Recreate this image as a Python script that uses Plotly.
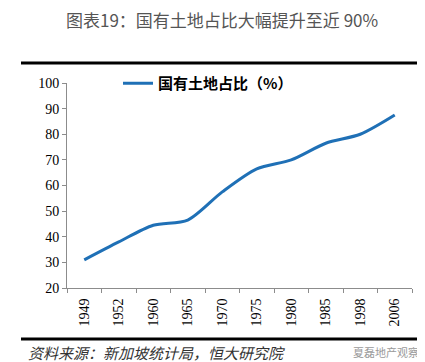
import plotly.graph_objects as go

years = ["1949", "1952", "1960", "1965", "1970", "1975", "1980", "1985", "1998", "2006"]
share = [31, 38, 44.5, 46.5, 57.5, 66.5, 70, 76.5, 80, 87.5]
y_ticks = [20, 30, 40, 50, 60, 70, 80, 90, 100]

W, H = 425, 362
L, R, T, B = 59, 21, 75, 82
pw, ph = W - L - R, H - T - B

def px(x):
    return (x - L) / pw

def py(y):
    return (H - B - y) / ph

fig = go.Figure()
fig.add_trace(go.Scatter(
    x=years, y=share, mode="lines", name="国有土地占比（%）",
    line=dict(color="#1f70b6", width=3, shape="spline", smoothing=0.8),
))

serif = "Liberation Serif, Times New Roman, serif"
cjk = "Noto Sans CJK SC, sans-serif"

fig.update_layout(
    width=W, height=H,
    margin=dict(l=L, r=R, t=T, b=B),
    paper_bgcolor="white", plot_bgcolor="white",
    showlegend=True,
    legend=dict(
        x=px(110), y=py(59), xanchor="left", yanchor="top",
        bgcolor="rgba(0,0,0,0)",
        font=dict(family=cjk, size=15, color="black", weight="bold"),
        itemwidth=30,
    ),
    xaxis=dict(
        type="category", tickson="boundaries", range=[-0.5, len(years) - 0.5],
        showline=True, linecolor="#8c8c8c", linewidth=1,
        ticks="outside", ticklen=4, tickcolor="#8c8c8c",
        tickangle=-90, showgrid=False, zeroline=False,
        ticklabelstandoff=4,
        tickfont=dict(family=serif, size=14, color="black"),
        fixedrange=True,
    ),
    yaxis=dict(
        range=[20, 100], tickvals=y_ticks,
        showline=True, linecolor="#8c8c8c", linewidth=1,
        ticks="outside", ticklen=4, tickcolor="#8c8c8c",
        showgrid=False, zeroline=False,
        tickfont=dict(family=serif, size=14, color="black"),
        fixedrange=True,
    ),
    shapes=[
        dict(type="line", xref="paper", yref="paper",
             x0=px(13), x1=px(415), y0=py(55), y1=py(55),
             line=dict(color="black", width=3)),
        dict(type="line", xref="paper", yref="paper",
             x0=px(13), x1=px(415), y0=py(331), y1=py(331),
             line=dict(color="black", width=3)),
    ],
    annotations=[
        dict(text="图表19：国有土地占比大幅提升至近 90%", xref="paper", yref="paper",
             x=px(214), y=py(12), xanchor="center", yanchor="middle", showarrow=False,
             font=dict(family=cjk, size=17, color="#555555")),
        dict(text="<i>资料来源：新加坡统计局，恒大研究院</i>", xref="paper", yref="paper",
             x=px(18), y=py(344), xanchor="left", yanchor="middle", showarrow=False,
             font=dict(family=cjk, size=15, color="#333333")),
        dict(text="夏磊地产观察", xref="paper", yref="paper",
             x=px(413), y=py(344), xanchor="right", yanchor="middle", showarrow=False,
             font=dict(family=cjk, size=11, color="#9a9a9a")),
    ],
)

fig.write_html("out.html")
